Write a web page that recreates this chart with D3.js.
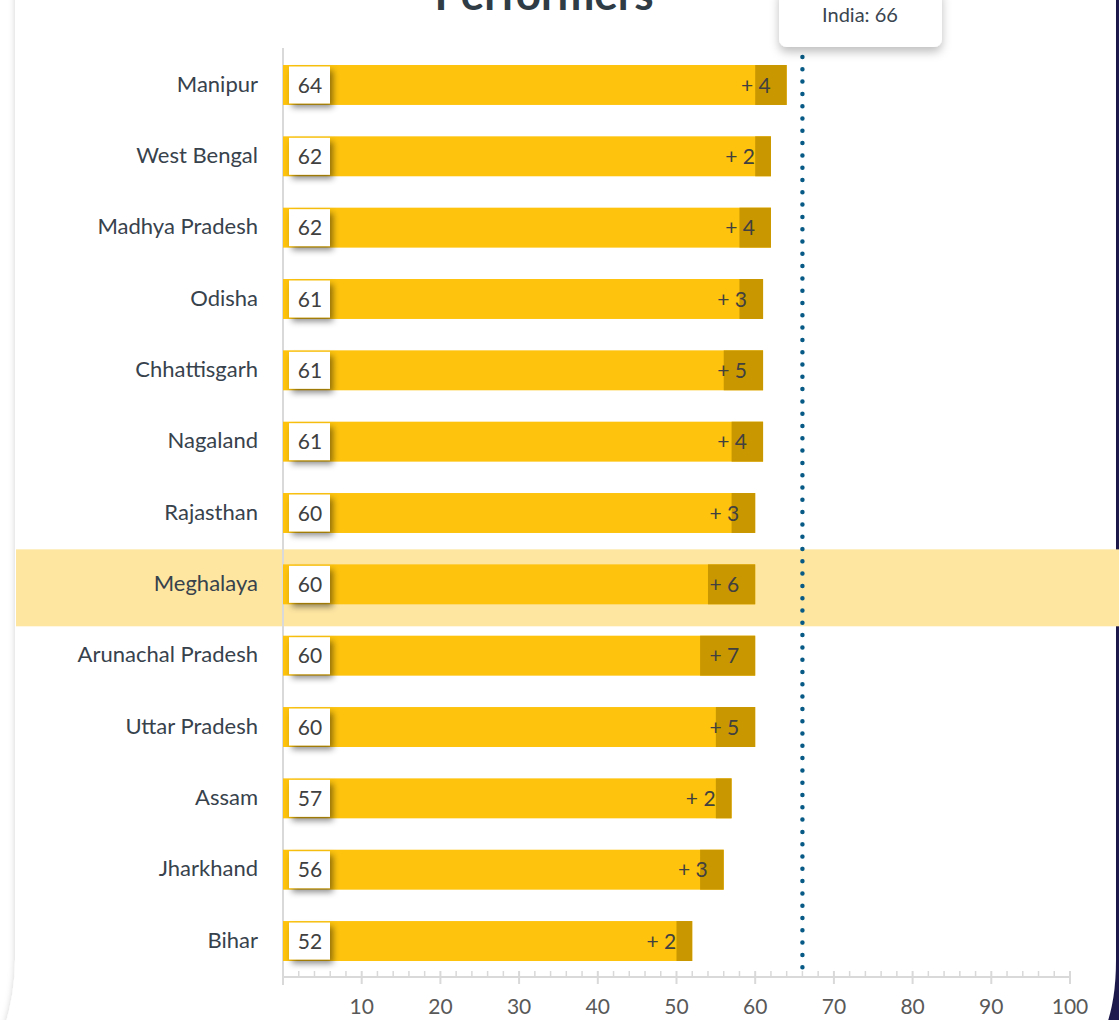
<!DOCTYPE html>
<html>
<head>
<meta charset="utf-8">
<script src="https://cdn.jsdelivr.net/npm/d3@7"></script>
<style>
  html, body { margin: 0; padding: 0; background: #fff; }
  svg { display: block; font-family: Lato, "Open Sans", sans-serif; }
</style>
</head>
<body>
<svg width="1119" height="1020"></svg>
<script>
// data
var states = ["Manipur", "West Bengal", "Madhya Pradesh", "Odisha", "Chhattisgarh", "Nagaland",
              "Rajasthan", "Meghalaya", "Arunachal Pradesh", "Uttar Pradesh", "Assam", "Jharkhand", "Bihar"];
var scores = [64, 62, 62, 61, 61, 61, 60, 60, 60, 60, 57, 56, 52];
var gains  = [4, 2, 4, 3, 5, 4, 3, 6, 7, 5, 2, 3, 2];
var xTicks = [10, 20, 30, 40, 50, 60, 70, 80, 90, 100];
var indiaScore = 66;
var highlight = "Meghalaya";

var data = states.map(function(s, i) { return {state: s, score: scores[i], gain: gains[i]}; });

var svg = d3.select("svg"),
    W = +svg.attr("width"),
    H = +svg.attr("height");

var defs = svg.append("defs");
var sh = defs.append("filter").attr("id", "shadow").attr("x", "-30%").attr("y", "-30%").attr("width", "180%").attr("height", "180%");
sh.append("feDropShadow").attr("dx", 3).attr("dy", 4).attr("stdDeviation", 3).attr("flood-color", "#000").attr("flood-opacity", 0.45);
var sh2 = defs.append("filter").attr("id", "shadow2").attr("x", "-20%").attr("y", "-40%").attr("width", "140%").attr("height", "200%");
sh2.append("feDropShadow").attr("dx", 0).attr("dy", 5).attr("stdDeviation", 5).attr("flood-color", "#000").attr("flood-opacity", 0.25);
var sh3 = defs.append("filter").attr("id", "cardshadow").attr("x", "-5%").attr("y", "-5%").attr("width", "110%").attr("height", "110%");
sh3.append("feDropShadow").attr("dx", 0).attr("dy", 0).attr("stdDeviation", 3).attr("flood-color", "#000").attr("flood-opacity", 0.18);

// dark background on the right, card in front
svg.append("rect").attr("x", 1000).attr("y", 0).attr("width", 119).attr("height", H).attr("fill", "#1e1a4f");
svg.append("path")
    .attr("d", "M15,-20 L1116,-20 L1116,960 Q1116,1010 1100,1040 L0,1040 Q15,1000 15,960 Z")
    .attr("fill", "#fff")
    .attr("filter", "url(#cardshadow)");

var x = d3.scaleLinear().domain([0, 100]).range([283, 1070]);
var y = d3.scaleBand().domain(states).range([49.3, 976.7]).paddingInner(0.44).paddingOuter(0.22);
var bh = y.bandwidth();

// highlight band
svg.append("rect")
    .attr("x", 16).attr("width", W - 16)
    .attr("y", y(highlight) - 15).attr("height", bh + 37)
    .attr("fill", "#fee6a1");

// title (cut off at the top, as in the original)
svg.append("text")
    .attr("x", 544).attr("y", 10)
    .attr("text-anchor", "middle")
    .attr("font-size", 44).attr("font-weight", "bold")
    .attr("fill", "#2f3c46")
    .text("Performers");

// axis
var axisY = 977;
svg.append("line").attr("x1", x(0)).attr("x2", x(0)).attr("y1", 48).attr("y2", 985)
    .attr("stroke", "#d9d9d9").attr("stroke-width", 2);
svg.append("line").attr("x1", x(0)).attr("x2", x(100)).attr("y1", axisY).attr("y2", axisY)
    .attr("stroke", "#d9d9d9").attr("stroke-width", 2);
svg.append("g").selectAll("line").data(d3.range(2, 100, 2).filter(function(v) { return v % 10 != 0; }))
  .enter().append("line")
    .attr("x1", function(d) { return x(d); }).attr("x2", function(d) { return x(d); })
    .attr("y1", axisY - 6).attr("y2", axisY)
    .attr("stroke", "#d9d9d9").attr("stroke-width", 1.5);
svg.append("g").selectAll("line").data([0].concat(xTicks))
  .enter().append("line")
    .attr("x1", function(d) { return x(d); }).attr("x2", function(d) { return x(d); })
    .attr("y1", axisY - 6).attr("y2", axisY + 7)
    .attr("stroke", "#d9d9d9").attr("stroke-width", 2);
svg.append("g").selectAll("text").data(xTicks)
  .enter().append("text")
    .attr("x", function(d) { return x(d); }).attr("y", 1014)
    .attr("text-anchor", "middle").attr("font-size", 21).attr("fill", "#595959")
    .text(function(d) { return d; });

// bars
var row = svg.append("g").selectAll("g").data(data).enter().append("g")
    .attr("transform", function(d) { return "translate(0," + y(d.state) + ")"; });

row.append("rect")
    .attr("x", x(0)).attr("y", 0)
    .attr("width", function(d) { return x(d.score) - x(0); })
    .attr("height", bh)
    .attr("fill", "#fdc30d");
row.append("rect")
    .attr("x", function(d) { return x(d.score - d.gain); }).attr("y", 0)
    .attr("width", function(d) { return x(d.score) - x(d.score - d.gain); })
    .attr("height", bh)
    .attr("fill", "#c99700");
row.append("text")
    .attr("x", function(d) { return x(d.score) - 16; })
    .attr("y", bh / 2).attr("dy", "0.36em")
    .attr("text-anchor", "end").attr("font-size", 21).attr("fill", "#404040")
    .text(function(d) { return "+ " + d.gain; });

// score boxes
row.append("rect")
    .attr("x", 289).attr("y", 1.5).attr("width", 41).attr("height", bh - 3)
    .attr("fill", "#fff").attr("filter", "url(#shadow)");
row.append("text")
    .attr("x", 310).attr("y", bh / 2).attr("dy", "0.36em")
    .attr("text-anchor", "middle").attr("font-size", 21).attr("fill", "#404040")
    .text(function(d) { return d.score; });

// state labels
row.append("text")
    .attr("x", 258).attr("y", bh / 2).attr("dy", "0.3em")
    .attr("text-anchor", "end").attr("font-size", 22).attr("fill", "#37424c")
    .text(function(d) { return d.state; });

// India average line
svg.append("line")
    .attr("x1", x(indiaScore)).attr("x2", x(indiaScore))
    .attr("y1", 57).attr("y2", 976)
    .attr("stroke", "#075a85").attr("stroke-width", 4.5)
    .attr("stroke-linecap", "round").attr("stroke-dasharray", "0 12.3");

svg.append("rect")
    .attr("x", 779).attr("y", -12).attr("width", 163).attr("height", 59).attr("rx", 8)
    .attr("fill", "#fff").attr("filter", "url(#shadow2)");
svg.append("text")
    .attr("x", 860).attr("y", 15).attr("dy", "0.35em")
    .attr("text-anchor", "middle").attr("font-size", 20).attr("fill", "#3a4550")
    .text("India: " + indiaScore);
</script>
</body>
</html>
